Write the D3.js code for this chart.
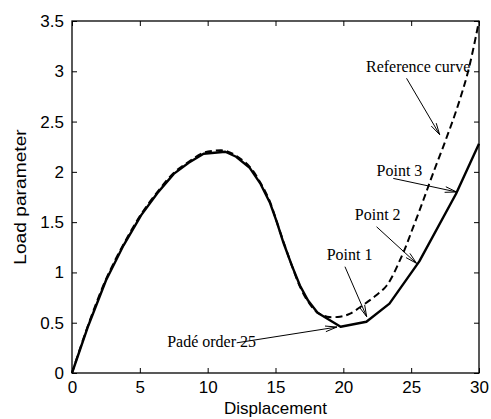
<!DOCTYPE html>
<html>
<head>
<meta charset="utf-8">
<script src="https://cdn.jsdelivr.net/npm/d3@7"></script>
<style>
  html, body { margin: 0; padding: 0; background: #fff; }
  svg { display: block; }
</style>
</head>
<body>
<script>
// ---- data ----
const padeX = [0, 1.2, 2.5, 3.8, 5.1, 6.3, 7.5, 8.6, 9.7, 10.5, 11.3, 12.1, 13.1, 13.9, 14.6, 15.1, 15.6, 16.2, 16.8, 17.4, 18.1, 19.8, 21.7, 23.4, 25.6, 28.3, 30];
const padeY = [0, 0.47, 0.92, 1.27, 1.57, 1.79, 1.98, 2.09, 2.18, 2.19, 2.2, 2.15, 2.04, 1.88, 1.69, 1.5, 1.29, 1.07, 0.87, 0.72, 0.6, 0.46, 0.51, 0.69, 1.11, 1.78, 2.28];

const refX = [0, 1.2, 2.5, 3.8, 5.1, 6.3, 7.5, 8.6, 9.7, 10.5, 11.3, 12.1, 13.1, 13.9, 14.6, 15.1, 15.6, 16.2, 16.8, 17.4, 18.1, 18.8, 19.75, 20.5, 21.5, 22.4, 23.2, 24.3, 25.15, 25.9, 26.6, 27.5, 28.35, 29.2, 30];
const refY = [0, 0.48, 0.93, 1.28, 1.58, 1.8, 1.99, 2.1, 2.19, 2.21, 2.21, 2.16, 2.05, 1.89, 1.7, 1.5, 1.3, 1.07, 0.86, 0.71, 0.6, 0.56, 0.56, 0.59, 0.68, 0.77, 0.87, 1.16, 1.45, 1.72, 1.98, 2.3, 2.62, 3.0, 3.5];

const xTicks = [0, 5, 10, 15, 20, 25, 30];
const yTicks = [0, 0.5, 1, 1.5, 2, 2.5, 3, 3.5];
const yTickLabels = ["0", "0.5", "1", "1.5", "2", "2.5", "3", "3.5"];

const annLabels = ["Reference curve", "Point 3", "Point 2", "Point 1", "Padé order 25"];
const annTextX  = [21.67, 22.45, 20.85, 18.77, 7.02];
const annTextY  = [2.99, 1.96, 1.52, 1.12, 0.26];
const annFromX  = [24.66, 23.68, 22.45, 20.12, 12.14];
const annFromY  = [2.93, 1.935, 1.454, 1.057, 0.30];
const annToX    = [27.1, 28.35, 25.4, 21.72, 19.53];
const annToY    = [2.37, 1.80, 1.09, 0.56, 0.457];

// ---- layout ----
const W = 491, H = 419;
const mLeft = 72, mRight = 479, mTop = 21, mBottom = 373;

const svg = d3.select("body").append("svg").attr("width", W).attr("height", H);

const x = d3.scaleLinear().domain([0, 30]).range([mLeft, mRight]);
const y = d3.scaleLinear().domain([0, 3.5]).range([mBottom, mTop]);

const sans = "'Liberation Sans', Arial, Helvetica, sans-serif";
const serif = "'Liberation Serif', 'Times New Roman', Times, serif";

// ticks (inward on all four sides)
const tl = 5;
const axB = svg.append("g").attr("transform", `translate(0,${mBottom})`)
  .call(d3.axisBottom(x).tickValues(xTicks).tickSizeInner(-tl).tickSizeOuter(0).tickPadding(8));
const axT = svg.append("g").attr("transform", `translate(0,${mTop})`)
  .call(d3.axisTop(x).tickValues(xTicks).tickSizeInner(-tl).tickSizeOuter(0).tickFormat(""));
const axL = svg.append("g").attr("transform", `translate(${mLeft},0)`)
  .call(d3.axisLeft(y).tickValues(yTicks).tickSizeInner(-tl).tickSizeOuter(0).tickPadding(8)
    .tickFormat((d, i) => yTickLabels[i]));
const axR = svg.append("g").attr("transform", `translate(${mRight},0)`)
  .call(d3.axisRight(y).tickValues(yTicks).tickSizeInner(-tl).tickSizeOuter(0).tickFormat(""));

[axB, axT, axL, axR].forEach(g => {
  g.select(".domain").remove();
  g.selectAll(".tick line").attr("stroke", "#000").attr("stroke-width", 1);
  g.selectAll("text").attr("fill", "#000").style("font-family", sans).style("font-size", "17px");
});

// frame
svg.append("rect").attr("x", mLeft).attr("y", mTop)
  .attr("width", mRight - mLeft).attr("height", mBottom - mTop)
  .attr("fill", "none").attr("stroke", "#000").attr("stroke-width", 1.3);

// curves
const refData = refX.map((d, i) => [d, refY[i]]);
const padeData = padeX.map((d, i) => [d, padeY[i]]);

svg.append("path").datum(refData)
  .attr("d", d3.line().x(d => x(d[0])).y(d => y(d[1])).curve(d3.curveCatmullRom.alpha(0.5)))
  .attr("fill", "none").attr("stroke", "#000").attr("stroke-width", 2)
  .attr("stroke-dasharray", "7,4");

svg.append("path").datum(padeData)
  .attr("d", d3.line().x(d => x(d[0])).y(d => y(d[1])))
  .attr("fill", "none").attr("stroke", "#000").attr("stroke-width", 2.4)
  .attr("stroke-linejoin", "round");

// annotations
annLabels.forEach((lab, i) => {
  const x1 = x(annFromX[i]), y1 = y(annFromY[i]);
  const x2 = x(annToX[i]), y2 = y(annToY[i]);
  svg.append("line").attr("x1", x1).attr("y1", y1).attr("x2", x2).attr("y2", y2)
    .attr("stroke", "#000").attr("stroke-width", 1);
  const ang = Math.atan2(y2 - y1, x2 - x1);
  const L = 12, a = 0.24;
  const p1 = [x2 - L * Math.cos(ang - a), y2 - L * Math.sin(ang - a)];
  const p2 = [x2 - L * Math.cos(ang + a), y2 - L * Math.sin(ang + a)];
  svg.append("path")
    .attr("d", `M${p1[0]},${p1[1]}L${x2},${y2}L${p2[0]},${p2[1]}`)
    .attr("fill", "none").attr("stroke", "#000").attr("stroke-width", 1);
  svg.append("text")
    .attr("transform", `translate(${x(annTextX[i])},${y(annTextY[i])}) scale(1,1.1)`)
    .style("font-family", serif).style("font-size", "16px").attr("fill", "#000")
    .text(lab);
});

// axis labels
svg.append("text")
  .attr("x", (mLeft + mRight) / 2).attr("y", 414)
  .attr("text-anchor", "middle")
  .style("font-family", sans).style("font-size", "17px").attr("fill", "#000")
  .text("Displacement");

svg.append("text")
  .attr("transform", `translate(26,197) scale(1,1.13) rotate(-90)`)
  .attr("text-anchor", "middle")
  .style("font-family", sans).style("font-size", "17px").attr("fill", "#000")
  .text("Load parameter");
</script>
</body>
</html>
